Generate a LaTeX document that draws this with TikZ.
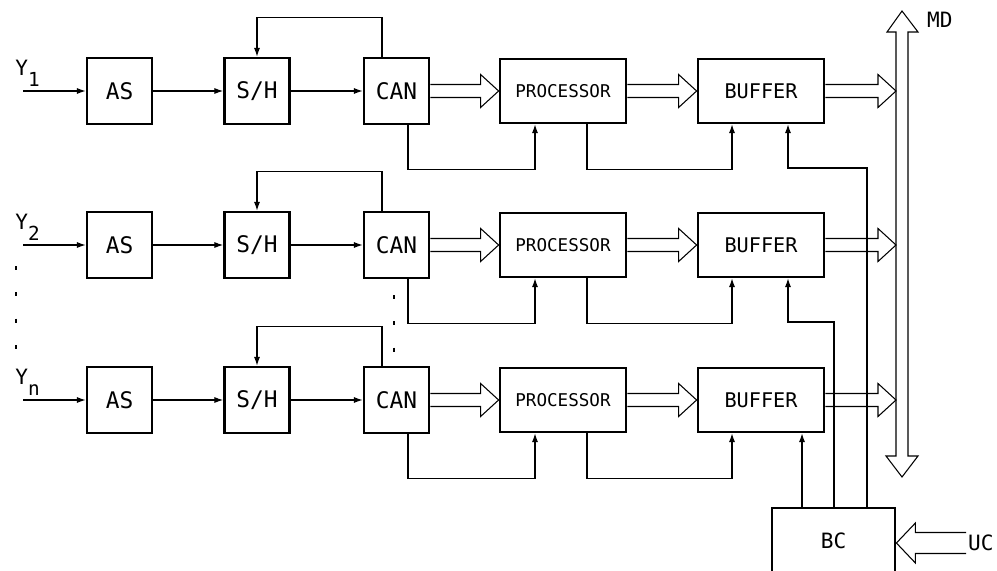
\documentclass[tikz,border=0pt]{standalone}
\usepackage{fontspec}
\setmainfont{DejaVu Sans Mono}
\usetikzlibrary{arrows.meta, calc}

% hollow bus arrow: from, to, head length, half shaft, half head
\newcommand{\fatarrow}[5]{%
  \draw[line width=0.6pt, line join=miter] let \p1=(#1), \p2=(#2) in
    (\x1,{\y1+#4}) -- ({\x2-(#3)},{\y1+#4}) -- ({\x2-(#3)},{\y1+#5}) -- (\x2,\y1)
    -- ({\x2-(#3)},{\y1-#5}) -- ({\x2-(#3)},{\y1-#4}) -- (\x1,{\y1-#4});}

\tikzset{
  box/.style={draw, line width=1.6pt, minimum width=1.3cm, minimum height=1.32cm,
    inner sep=0pt, font=\fontsize{13}{15}\selectfont},
  wbox/.style={box, minimum width=2.52cm, minimum height=1.28cm},
  sig/.style={line width=0.6pt, -{Latex[length=5pt,width=3.5pt]}},
  lbl/.style={inner sep=1pt, font=\fontsize{12}{14}\selectfont},
  ylbl/.style={inner sep=0pt, anchor=south west, font=\fontsize{12}{14}\selectfont},
  dots/.style={line width=0.8pt, dash pattern=on 2.3pt off 12.7pt}
}

\begin{document}
\begin{tikzpicture}[x=0.02cm, y=-0.02cm]
    \useasboundingbox (0,0) rectangle (997,571);
    % the three channels
    \foreach \r/\yy in {1/91, 2/245, 3/400} {
        \node[box] (as\r) at (119.5,\yy) {AS};
        \node[box] (sh\r) at (257,\yy) {S/H};
        \node[box] (can\r) at (396.5,\yy) {CAN};
        \node[wbox, font=\fontsize{10}{12}\selectfont] (proc\r) at (563,\yy) {PROCESSOR};
        \node[wbox, font=\fontsize{11.5}{13}\selectfont] (buf\r) at (761,\yy) {BUFFER};
        \coordinate (in\r) at (23,\yy);
        \coordinate (md\r) at (896,\yy);
        \coordinate (lvl\r) at (0,\yy+77);
        \coordinate (bin\r) at ([xshift=0.54cm]buf\r.south);
        \draw[sig] (in\r) -- (as\r);
        \draw[sig] (as\r) -- (sh\r);
        \draw[sig] (sh\r) -- (can\r);
        \draw[sig] ([xshift=-0.29cm]can\r.north) -- ++(0,-39) -| (sh\r.north);
        \draw[sig] ([xshift=0.23cm]can\r.south) -- ++(0,44) -| ([xshift=-0.56cm]proc\r.south);
        \draw[sig] ([xshift=0.48cm]proc\r.south) -- ++(0,45) -| ([xshift=-0.58cm]buf\r.south);
        \fatarrow{can\r.east}{proc\r.west}{0.36cm}{0.13cm}{0.33cm}
        \fatarrow{proc\r.east}{buf\r.west}{0.36cm}{0.13cm}{0.33cm}
        \fatarrow{buf\r.east}{md\r}{0.36cm}{0.13cm}{0.33cm}
    }
    % input labels
    \node[ylbl] (ylab1) at (15,87) {Y\raisebox{-0.55em}{\fontsize{11}{13}\selectfont 1}};
    \node[ylbl] (ylab2) at (15,241) {Y\raisebox{-0.55em}{\fontsize{11}{13}\selectfont 2}};
    \node[ylbl] (ylab3) at (15,396) {Y\raisebox{-0.55em}{\fontsize{11}{13}\selectfont n}};
    \draw[dots] (16,266) -- (16,352);
    \draw[dots] (394,295) -- (394,356);
    % data bus
    \draw[line width=0.6pt, line join=miter] (896,456) -- (896,32) -- (887,32) -- (902,11)
        -- (918,32) -- (908,32) -- (908,456) -- (918,456) -- (902,477) -- (886,456) -- cycle;
    \node[lbl, anchor=west] (md) at (925,20) {MD};
    % bus controller
    \node[box, minimum width=2.46cm, minimum height=1.32cm, font=\fontsize{12}{14}\selectfont] (bc) at (833.5,541) {BC};
    \coordinate (bc1) at ([xshift=-0.63cm]bc.north);
    \coordinate (bc2) at ([xshift=0.01cm]bc.north);
    \coordinate (bc3) at ([xshift=0.67cm]bc.north);
    \draw[sig] (bc1) -- (bc1 |- buf3.south);
    \draw[sig] (bc2) |- (lvl2 -| bin2) -- (bin2);
    \draw[sig] (bc3) |- (lvl1 -| bin1) -- (bin1);
    \node[lbl, anchor=west] (uc) at (966,543) {UC};
    \fatarrow{uc.west}{uc.west -| bc.east}{-0.38cm}{0.21cm}{0.4cm}
\end{tikzpicture}
\end{document}
